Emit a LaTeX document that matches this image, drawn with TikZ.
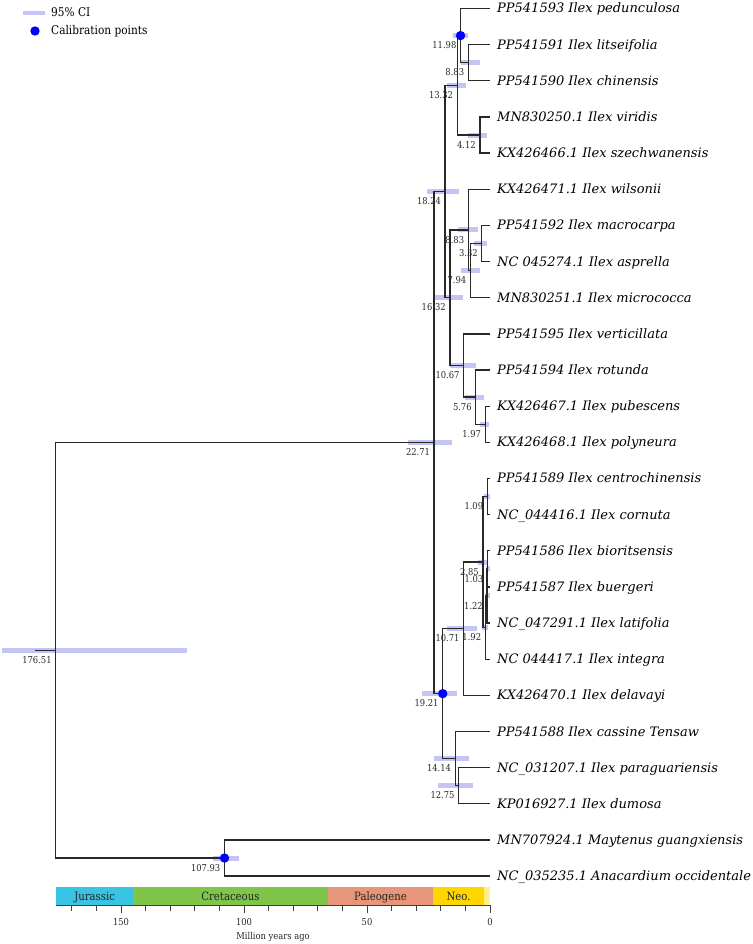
\documentclass[tikz,border=0pt]{standalone}
\usepackage{fontspec}
\setmainfont{DejaVu Serif}
\newfontfamily\condfont[FakeStretch=0.88]{DejaVu Serif}
\definecolor{cibar}{RGB}{196,196,245}
\definecolor{branch}{RGB}{40,40,40}
\definecolor{jur}{RGB}{58,196,228}
\definecolor{cre}{RGB}{127,197,74}
\definecolor{pal}{RGB}{232,150,122}
\definecolor{neo}{RGB}{255,214,0}
\definecolor{qua}{RGB}{255,240,140}
\newcommand\inode[5]{%
  \coordinate (#1) at ({490-2.46*#2},#3);
  \fill[ci] ({#4},{#3-2.5}) rectangle ({#5},{#3+2.5});
  \node[agelab] (#1l) at ([xshift=-4pt,yshift=-6pt]#1) {#2};
}
\newcommand\tipnode[3]{%
  \coordinate (#1) at (490,#2);
  \node[tiplab] (#1l) at (497,{#2+4.5}) {#3};
}
\begin{document}
\begin{tikzpicture}[x=1pt,y=-1pt,
  br/.style={draw=branch, line width=1.3pt},
  ci/.style={fill=cibar, draw=none},
  agelab/.style={anchor=north east, inner sep=0pt, font=\condfont\fontsize{9.5}{10}\selectfont, text=black!85},
  tiplab/.style={anchor=base west, inner sep=0pt, font=\itshape\fontsize{13}{15}\selectfont},
  calib/.style={fill=blue, draw=none, circle, minimum size=9.4pt, inner sep=0pt},
  leglab/.style={anchor=base west, inner sep=0pt, font=\condfont\fontsize{12}{14}\selectfont},
  perlab/.style={anchor=base, inner sep=0pt, font=\condfont\fontsize{11.5}{13}\selectfont, text=black!85},
  axlab/.style={anchor=center, inner sep=0pt, font=\condfont\fontsize{9.5}{11}\selectfont, text=black!85},
  axline/.style={draw=black!75, line width=0.9pt}]
\useasboundingbox (0,0) rectangle (752,944);

% internal nodes with 95% CI bars and age labels
\inode{n2271}{22.71}{442.58}{408}{452}
\inode{n1824}{18.24}{191.51}{427}{459}
\inode{n1332}{13.32}{85.32}{447}{466}
\inode{n1198}{11.98}{35.61}{453}{468}
\inode{n883a}{8.83}{62.725}{461}{480}
\inode{n412}{4.12}{135.025}{468}{487}
\inode{n1632}{16.32}{297.70}{435}{463}
\inode{n883b}{8.83}{229.92}{458}{478}
\inode{n794}{7.94}{270.59}{461}{480}
\inode{n332}{3.32}{243.475}{474}{487}
\inode{n1067}{10.67}{365.48}{450}{476}
\inode{n576}{5.76}{397.11}{465}{484}
\inode{n197}{1.97}{424.225}{480}{489}
\inode{n1921}{19.21}{693.66}{422}{457}
\inode{n1071}{10.71}{628.70}{447}{477}
\inode{n285}{2.85}{562.05}{478}{488}
\inode{n109}{1.09}{496.525}{484}{490}
\inode{n192}{1.92}{627.57}{482}{488}
\inode{n122}{1.22}{595.94}{485}{490}
\inode{n103}{1.03}{568.825}{486}{490}
\inode{n1414}{14.14}{758.61}{434}{469}
\inode{n1275}{12.75}{785.725}{438}{473}
\inode{n10793}{107.93}{858.025}{213}{239}
\inode{root}{176.51}{650.30}{2}{187}
\coordinate (rootstub) at (35,650.30);

% tips
\tipnode{t1}{8.5}{PP541593 Ilex pedunculosa}
\tipnode{t2}{44.65}{PP541591 Ilex litseifolia}
\tipnode{t3}{80.8}{PP541590 Ilex chinensis}
\tipnode{t4}{116.95}{MN830250.1 Ilex viridis}
\tipnode{t5}{153.1}{KX426466.1 Ilex szechwanensis}
\tipnode{t6}{189.25}{KX426471.1 Ilex wilsonii}
\tipnode{t7}{225.4}{PP541592 Ilex macrocarpa}
\tipnode{t8}{261.55}{NC 045274.1 Ilex asprella}
\tipnode{t9}{297.7}{MN830251.1 Ilex micrococca}
\tipnode{t10}{333.85}{PP541595 Ilex verticillata}
\tipnode{t11}{370.0}{PP541594 Ilex rotunda}
\tipnode{t12}{406.15}{KX426467.1 Ilex pubescens}
\tipnode{t13}{442.3}{KX426468.1 Ilex polyneura}
\tipnode{t14}{478.45}{PP541589 Ilex centrochinensis}
\tipnode{t15}{514.6}{NC\_044416.1 Ilex cornuta}
\tipnode{t16}{550.75}{PP541586 Ilex bioritsensis}
\tipnode{t17}{586.9}{PP541587 Ilex buergeri}
\tipnode{t18}{623.05}{NC\_047291.1 Ilex latifolia}
\tipnode{t19}{659.2}{NC 044417.1 Ilex integra}
\tipnode{t20}{695.35}{KX426470.1 Ilex delavayi}
\tipnode{t21}{731.5}{PP541588 Ilex cassine Tensaw}
\tipnode{t22}{767.65}{NC\_031207.1 Ilex paraguariensis}
\tipnode{t23}{803.8}{KP016927.1 Ilex dumosa}
\tipnode{t24}{839.95}{MN707924.1 Maytenus guangxiensis}
\tipnode{t25}{876.1}{NC\_035235.1 Anacardium occidentale}

% branches
\draw[br] (rootstub) -- (root);
\foreach \p/\c in {root/n2271, root/n10793,
  n2271/n1824, n2271/n1921,
  n1824/n1332, n1824/n1632,
  n1332/n1198, n1332/n412,
  n1198/t1, n1198/n883a,
  n883a/t2, n883a/t3,
  n412/t4, n412/t5,
  n1632/n883b, n1632/n1067,
  n883b/t6, n883b/n794,
  n794/n332, n794/t9,
  n332/t7, n332/t8,
  n1067/t10, n1067/n576,
  n576/t11, n576/n197,
  n197/t12, n197/t13,
  n1921/n1071, n1921/n1414,
  n1071/n285, n1071/t20,
  n285/n109, n285/n192,
  n109/t14, n109/t15,
  n192/n122, n192/t19,
  n122/n103, n122/t18,
  n103/t16, n103/t17,
  n1414/t21, n1414/n1275,
  n1275/t22, n1275/t23,
  n10793/t24, n10793/t25}
  \draw[br] (\p) |- (\c);

% calibration points
\node[calib] (d1198) at (n1198) {};
\node[calib] (d1921) at (n1921) {};
\node[calib] (d10793) at (n10793) {};

% legend
\fill[ci] (23,10.8) rectangle (45,15.3);
\node[leglab] (leg1) at (51,17) {95\% CI};
\node[calib] (legdot) at (35,31) {};
\node[leglab] (leg2) at (51,35) {Calibration points};

% geological time bar
\fill[jur] (56,887) rectangle ({490-2.46*145},905);
\fill[cre] ({490-2.46*145},887) rectangle ({490-2.46*66},905);
\fill[pal] ({490-2.46*66},887) rectangle ({490-2.46*23.03},905);
\fill[neo] ({490-2.46*23.03},887) rectangle ({490-2.46*2.58},905);
\fill[qua] ({490-2.46*2.58},887) rectangle (490,905);
\node[perlab] (pj) at ({(56+490-2.46*145)/2},900.5) {Jurassic};
\node[perlab] (pc) at ({490-2.46*(145+66)/2},900.5) {Cretaceous};
\node[perlab] (pp) at ({490-2.46*(66+23.03)/2},900.5) {Paleogene};
\node[perlab] (pn) at ({490-2.46*(23.03+2.58)/2},900.5) {Neo.};
\draw[axline] (56,905) -- (490,905);
\foreach \t in {10,20,30,40,60,70,80,90,110,120,130,140,160,170}
  \draw[axline] ({490-2.46*\t},905) -- ++(0,5.5);
\foreach \t in {0,50,100,150}{
  \draw[axline] ({490-2.46*\t},905) -- ++(0,8);
  \node[axlab] (tk\t) at ({490-2.46*\t},922) {\t};
}
\node[axlab] (axtitle) at (273,937) {Million years ago};
\end{tikzpicture}
\end{document}
